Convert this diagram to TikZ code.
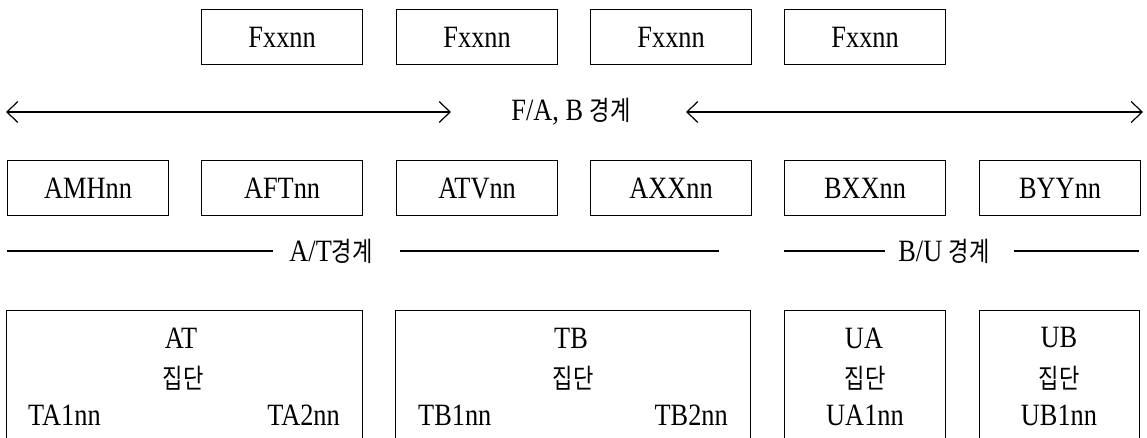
\documentclass[tikz,border=0pt]{standalone}
\usepackage{fontspec}
\setmainfont{Liberation Serif}[FakeStretch=0.85]
\newfontfamily\hangulfont{Noto Sans CJK KR}[FakeStretch=0.82]
\newcommand\hangul[1]{{\hangulfont\fontsize{27}{27}\selectfont #1}}
\usetikzlibrary{arrows.meta}
\begin{document}
\begin{tikzpicture}[x=1pt,y=-1pt,
  rule/.style={line width=1.2pt},
  box/.style={draw, line width=1.2pt, minimum width=161pt, minimum height=55pt,
              inner sep=0pt, anchor=north west, font=\fontsize{31}{31}\selectfont},
  group/.style={draw, line width=1.2pt, minimum height=160pt, inner sep=0pt,
                anchor=north west},
  lbl/.style={inner sep=0pt, font=\fontsize{31}{31}\selectfont},
  barb/.style={rule, {Straight Barb[length=11pt,width=21pt]}-{Straight Barb[length=11pt,width=21pt]}}]
\fill[white] (0,0) rectangle (1147,438);
\useasboundingbox (0,0) rectangle (1147,438);

% top row
\node[box] (f1) at (201,9)  {Fxxnn};
\node[box] (f2) at (396,9)  {Fxxnn};
\node[box] (f3) at (590,9)  {Fxxnn};
\node[box] (f4) at (784,9)  {Fxxnn};

% F/A, B boundary
\node[lbl] (fab) at (571,112) {F/A, B \hangul{경계}};
\coordinate (fa0) at (6,112);
\coordinate (fa1) at (451,112);
\coordinate (fb0) at (686,112);
\coordinate (fb1) at (1143,112);
\draw[barb] (fa0) -- (fa1);
\draw[barb] (fb0) -- (fb1);

% middle row
\node[box] (amh) at (7,160)   {AMHnn};
\node[box] (aft) at (201,160) {AFTnn};
\node[box] (atv) at (396,160) {ATVnn};
\node[box] (axx) at (590,160) {AXXnn};
\node[box] (bxx) at (784,160) {BXXnn};
\node[box] (byy) at (979,160) {BYYnn};

% A/T and B/U boundaries
\node[lbl] (atb) at (331,251) {A/T\hangul{경계}};
\node[lbl] (bub) at (944,251) {B/U \hangul{경계}};
\coordinate (at0) at (7,251);
\coordinate (at1) at (273,251);
\coordinate (at2) at (400,251);
\coordinate (at3) at (719,251);
\coordinate (bu0) at (784,251);
\coordinate (bu1) at (885,251);
\coordinate (bu2) at (1014,251);
\coordinate (bu3) at (1139,251);
\draw[rule] (at0) -- (at1);
\draw[rule] (at2) -- (at3);
\draw[rule] (bu0) -- (bu1);
\draw[rule] (bu2) -- (bu3);

% groups
\begin{scope}
\clip (0,0) rectangle (1147,438);
\node[group, minimum width=356pt] (gat) at (6,310)   {};
\node[group, minimum width=355pt] (gtb) at (395,310) {};
\node[group, minimum width=161pt] (gua) at (784,310) {};
\node[group, minimum width=160pt] (gub) at (979,310) {};
\end{scope}

\node[lbl] (atn) at (181,338) {AT};
\node[lbl] (atk) at (183,378) {\hangul{집단}};
\node[lbl, anchor=west] (ta1) at (28,415) {TA1nn};
\node[lbl, anchor=east] (ta2) at (340,415) {TA2nn};

\node[lbl] (tbn) at (571,338) {TB};
\node[lbl] (tbk) at (573,378) {\hangul{집단}};
\node[lbl, anchor=west] (tb1) at (418,415) {TB1nn};
\node[lbl, anchor=east] (tb2) at (728,415) {TB2nn};

\node[lbl] (uan) at (864,338) {UA};
\node[lbl] (uak) at (865,378) {\hangul{집단}};
\node[lbl] (ua1) at (865,415) {UA1nn};

\node[lbl] (ubn) at (1059,338) {UB};
\node[lbl] (ubk) at (1059,378) {\hangul{집단}};
\node[lbl] (ub1) at (1059,415) {UB1nn};
\end{tikzpicture}
\end{document}
